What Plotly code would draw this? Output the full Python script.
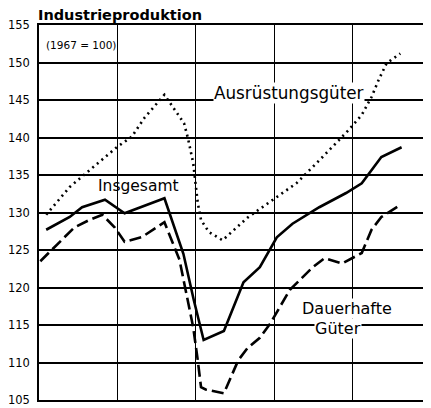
import plotly.graph_objects as go

# Monatsindex (0 = Anfang des ersten Jahres), Werte 1967 = 100
months_insgesamt = [1.1, 4.7, 6.6, 7.7, 10.1, 13.1, 19.2, 22.1, 23.7, 25.2, 28.3, 31.3,
                    33.8, 36.4, 38.8, 42.9, 47.0, 49.4, 50.9, 52.4, 55.5]
insgesamt = [127.7, 129.4, 130.7, 131.0, 131.7, 129.9, 131.9, 124.5, 118.3, 113.0, 114.2, 120.7,
             122.7, 126.7, 128.5, 130.7, 132.6, 133.9, 135.7, 137.4, 138.7]

months_dauerhaft = [0.2, 2.9, 5.4, 7.7, 9.7, 11.6, 13.1, 15.7, 19.2, 21.5, 22.2, 23.6, 24.3,
                    24.8, 25.5, 28.3, 30.5, 31.9, 33.8, 35.4, 38.4, 41.9, 43.7, 46.4, 49.4,
                    50.9, 52.4, 55.3]
dauerhaft = [123.5, 125.9, 128.0, 129.0, 129.7, 128.0, 126.1, 126.7, 128.7, 123.7, 120.6, 114.7, 110.3,
             106.7, 106.4, 105.9, 110.3, 111.9, 113.3, 115.2, 119.7, 122.7, 123.9, 123.2, 124.6,
             127.7, 129.4, 131.0]

months_ausruestung = [1.1, 4.7, 11.9, 14.2, 16.2, 19.2, 22.2, 22.8, 23.6, 24.3, 24.8, 26.0, 28.1,
                      29.8, 31.9, 35.8, 39.4, 43.4, 47.4, 49.4, 50.9, 52.0, 53.2, 55.3]
ausruestung = [129.7, 133.4, 138.7, 140.1, 142.7, 145.7, 141.9, 139.9, 136.6, 131.3, 129.0, 127.4, 126.3,
               127.7, 129.3, 131.7, 133.9, 137.4, 141.0, 143.0, 145.4, 147.7, 149.9, 151.2]

y_ticks = [105, 110, 115, 120, 125, 130, 135, 140, 145, 150, 155]

font = "DejaVu Sans"

fig = go.Figure()
fig.add_trace(go.Scatter(x=months_ausruestung, y=ausruestung, mode="lines",
                         line=dict(color="black", width=2.6, dash="2px,4px")))
fig.add_trace(go.Scatter(x=months_insgesamt, y=insgesamt, mode="lines",
                         line=dict(color="black", width=2.6)))
fig.add_trace(go.Scatter(x=months_dauerhaft, y=dauerhaft, mode="lines",
                         line=dict(color="black", width=2.6, dash="12px,5px")))

fig.update_xaxes(range=[0, 60], dtick=12, tick0=0, showticklabels=False,
                 showgrid=True, gridcolor="black", gridwidth=1.4, zeroline=False,
                 showline=True, linecolor="black", linewidth=2, mirror=True, ticks="")
fig.update_yaxes(range=[105, 155], tickvals=y_ticks, showgrid=True, gridcolor="black",
                 gridwidth=2, zeroline=False, showline=True, linecolor="black", linewidth=1.5,
                 ticks="", ticklabelstandoff=5,
                 tickfont=dict(family=font, size=11.5, color="black"))

fig.add_annotation(text="<b>Industrieproduktion</b>", xref="paper", yref="paper", x=0, y=1,
                   xanchor="left", yanchor="middle", xshift=-3, yshift=10, showarrow=False,
                   font=dict(family=font, size=14.5, color="black"))
fig.add_annotation(text="(1967 = 100)", x=0.8, y=152.3, showarrow=False,
                   xanchor="left", yanchor="middle",
                   font=dict(family=font, size=10.5, color="black"))
fig.add_annotation(text="Ausrüstungsgüter", x=38.2, y=145.9, showarrow=False,
                   xanchor="center", yanchor="middle", bgcolor="white", borderpad=0,
                   font=dict(family=font, size=16.8, color="black"))
fig.add_annotation(text="Insgesamt", x=15.3, y=133.5, showarrow=False,
                   xanchor="center", yanchor="middle",
                   font=dict(family=font, size=15.5, color="black"))
fig.add_annotation(text="Dauerhafte", x=47.2, y=117.25, showarrow=False,
                   xanchor="center", yanchor="middle", bgcolor="white", borderpad=0,
                   font=dict(family=font, size=16, color="black"))
fig.add_annotation(text="Güter", x=45.7, y=114.6, showarrow=False,
                   xanchor="center", yanchor="middle", bgcolor="white", borderpad=0,
                   font=dict(family=font, size=16, color="black"))

# page has an 8px body margin, so the figure itself is 8px smaller each way
fig.update_layout(width=423, height=400, showlegend=False,
                  plot_bgcolor="white", paper_bgcolor="white",
                  margin=dict(l=28, r=0, t=17, b=8))

fig.write_html("out.html")
